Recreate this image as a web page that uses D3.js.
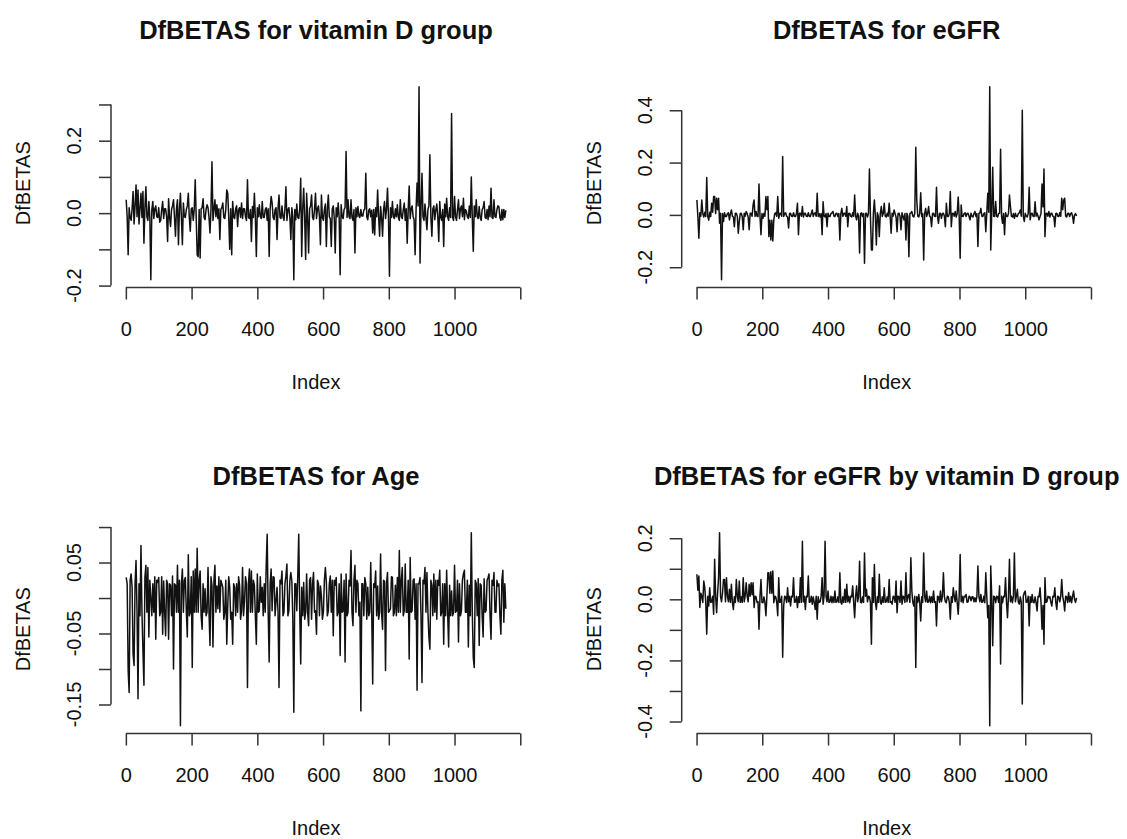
<!DOCTYPE html>
<html><head><meta charset="utf-8">
<script src="https://cdn.jsdelivr.net/npm/d3@7"></script>
<style>
body{margin:0;background:#fff}
svg{display:block}
</style>
</head><body>
<svg id="chart" width="1127" height="839"></svg>
<script>
// ---------------- DATA ----------------
const N_OBS = 1156;          // observations (Index 1..N)
const STEP = 3;              // values below are read every 3rd index
const titles = ["DfBETAS for vitamin D group","DfBETAS for eGFR","DfBETAS for Age","DfBETAS for eGFR by vitamin D group"];
const xLabel = "Index";
const yLabel = "DfBETAS";
const xTicks = [0,200,400,600,800,1000,1200];
const xTickLabels = [0,200,400,600,800,1000];

const dfbVitD = [
0.037,-0.01,-0.115,0.015,-0.012, -0.02,0.012,0.06,-0.03,0.02, 0.078,-0.01,0.064,-0.03,0.012, 0.055,-0.012,0.06,-0.083,0.015,
0.073,-0.01,-0.02,0.032,-0.012, -0.184,0.01,0.032,-0.015,0.012, 0.02,-0.01,-0.012,0.015,-0.025, -0.02,0.01,0.032,-0.015,0.012,
0.012,-0.01,-0.078,0.04,-0.012, -0.037,0.01,0.02,0.037,-0.012, -0.064,0.012,0.037,-0.087,0.01, 0.055,-0.012,-0.087,0.028,-0.01,
-0.012,0.01,0.02,0.055,-0.012, -0.05,0.012,0.015,-0.02,0.01, 0.092,-0.012,-0.115,-0.12,0.01, -0.124,0.012,0.015,0.04,-0.012,
-0.018,0.01,0.023,0.015,-0.012, -0.055,0.012,0.142,-0.02,0.01, 0.037,-0.01,0.023,-0.015,0.012, -0.073,0.01,0.015,0.028,-0.012,
-0.015,0.01,0.064,0.055,-0.012, -0.1,0.012,-0.115,0.032,-0.01, -0.015,0.012,0.02,-0.037,0.01, 0.015,-0.012,0.028,-0.015,0.012,
0.012,-0.01,-0.02,0.092,-0.012, -0.015,0.01,-0.078,0.018,-0.012, 0.055,-0.012,-0.12,0.015,-0.01, 0.023,-0.01,-0.015,0.032,-0.012,
-0.012,0.01,0.015,-0.02,0.012, -0.12,0.012,0.046,0.028,-0.012, -0.018,0.01,0.015,-0.073,0.012, 0.05,-0.012,-0.015,0.02,-0.01,
-0.02,0.012,0.073,-0.02,0.01, 0.015,-0.012,-0.073,0.015,-0.01, -0.184,0.01,-0.018,0.025,-0.012, -0.015,0.012,0.096,-0.12,0.01,
0.069,-0.012,-0.128,0.055,-0.01, -0.11,0.012,0.02,0.05,-0.012, -0.018,0.01,0.055,-0.015,0.012, 0.02,-0.01,-0.087,0.05,-0.012,
-0.02,0.01,0.025,-0.092,0.012, 0.05,-0.01,-0.015,-0.092,0.012, 0.02,-0.012,-0.11,0.015,-0.01, 0.028,-0.012,-0.17,0.023,-0.01,
-0.015,0.01,0.015,0.17,-0.012, 0.037,-0.01,-0.015,0.037,-0.012, -0.02,0.01,-0.11,0.015,-0.01, 0.018,-0.008,-0.012,0.01,-0.008,
-0.008,0.008,0.012,0.11,-0.01, -0.018,0.008,0.012,-0.01,0.008, -0.055,0.01,-0.06,0.015,-0.01, 0.064,-0.01,-0.064,0.018,-0.012,
-0.064,0.01,0.032,-0.015,0.01, 0.069,-0.01,-0.174,0.015,-0.012, 0.032,-0.01,-0.015,0.012,-0.01, 0.023,-0.012,-0.02,0.037,-0.01,
-0.015,0.01,0.028,-0.02,0.012, -0.083,0.01,0.075,-0.015,0.012, 0.02,-0.01,-0.018,-0.115,0.012, 0.083,0.02,0.349,-0.138,0.015,
0.11,-0.01,-0.02,0.025,-0.012, -0.046,0.01,0.02,0.161,-0.012, -0.064,0.012,0.02,-0.018,0.01, 0.025,-0.01,-0.078,0.032,-0.012,
-0.02,0.01,-0.092,0.025,-0.01, 0.041,-0.01,-0.02,0.015,-0.012, 0.275,-0.012,-0.02,0.046,-0.01, -0.02,0.01,0.037,-0.015,0.012,
0.02,-0.01,0.041,-0.018,0.01, 0.005,-0.01,-0.015,0.02,-0.012, 0.1,-0.012,-0.105,0.02,-0.01, 0.037,-0.01,-0.015,0.018,-0.012,
-0.02,0.01,0.015,0.032,-0.012, -0.015,0.01,-0.018,0.02,-0.01, 0.069,-0.012,-0.015,0.037,-0.01, -0.012,0.01,0.02,0.018,-0.012,
-0.02,0.01,-0.018,0.01,-0.012,
0.008];

const dfbEGFR = [
0.057,-0.006,-0.089,0.008,-0.005, 0.057,0.005,-0.008,0.01,-0.006, 0.143,-0.005,-0.02,0.01,-0.006, 0.045,0.01,0.07,0.07,0.005,
0.064,0.02,0.064,-0.032,0.006, -0.248,0.005,-0.025,0.008,-0.006, -0.006,0.005,0.008,-0.019,0.005, 0.019,-0.005,-0.008,-0.045,0.006,
0.006,-0.005,-0.07,-0.025,0.005, 0.006,-0.006,-0.057,0.006,-0.005, 0.013,0.005,-0.008,-0.057,0.006, 0.006,-0.005,0.038,0.057,-0.006,
0.013,-0.005,-0.006,0.118,-0.006, -0.076,0.005,-0.013,0.006,-0.005, 0.07,0.02,0.07,-0.083,-0.02, -0.096,-0.02,-0.1,-0.019,0.006,
0.008,-0.005,0.07,-0.013,0.005, 0.006,-0.005,0.223,-0.006,0.005, 0.008,-0.005,-0.008,-0.05,0.005, 0.006,-0.005,-0.006,0.008,-0.005,
-0.006,0.005,0.045,-0.076,0.006, 0.006,-0.005,0.032,-0.008,0.005, 0.006,-0.005,-0.006,0.008,-0.005, -0.006,0.005,0.019,-0.006,0.005,
0.008,-0.005,0.083,-0.006,0.005, -0.008,0.005,-0.076,0.05,-0.005, -0.008,0.005,-0.045,0.006,-0.005, -0.006,0.005,0.008,0.013,-0.005,
-0.006,0.005,0.006,-0.006,0.005, -0.096,0.005,0.025,-0.006,0.005, 0.006,-0.005,0.032,-0.045,0.005, 0.006,-0.005,-0.008,0.008,-0.005,
0.076,-0.005,-0.019,0.006,-0.005, -0.146,0.005,0.008,-0.006,0.005, -0.185,0.005,0.006,-0.008,0.005, 0.175,-0.005,-0.134,-0.134,0.006,
0.057,-0.005,-0.115,0.008,-0.005, -0.083,0.005,0.032,-0.006,0.005, 0.045,-0.005,-0.008,0.006,-0.005, 0.045,-0.005,-0.07,0.006,-0.005,
0.019,0.005,-0.008,-0.064,0.005, 0.006,-0.005,-0.057,0.008,-0.005, -0.019,0.005,-0.096,0.006,-0.005, -0.16,0.005,0.008,0.013,-0.005,
-0.008,0.006,0.259,0.057,-0.005, -0.008,0.005,0.085,-0.006,0.005, -0.172,0.005,0.025,-0.006,0.005, 0.032,-0.005,-0.008,-0.045,0.005,
0.006,-0.005,-0.006,0.106,-0.005, -0.032,0.005,0.006,-0.013,0.005, 0.006,-0.005,-0.045,0.045,-0.005, -0.006,0.005,0.089,-0.045,0.005,
0.006,-0.005,0.013,-0.008,0.005, 0.068,-0.005,-0.166,0.038,-0.005, -0.006,0.005,0.008,-0.006,0.005, 0.006,-0.005,-0.019,0.006,-0.005,
-0.008,0.005,0.013,-0.006,0.005, -0.121,0.005,0.008,0.025,-0.005, -0.006,0.005,0.008,-0.064,0.006, 0.083,0.01,0.49,-0.134,0.008,
0.182,-0.005,-0.006,0.051,-0.005, -0.008,0.005,0.006,0.251,-0.006, -0.032,0.005,-0.076,0.008,-0.005, -0.006,0.005,0.076,0.032,-0.005,
-0.008,0.005,-0.013,0.006,-0.005, -0.006,0.005,0.008,0.019,-0.005, 0.4,-0.005,-0.025,0.006,-0.005, -0.008,0.005,0.106,-0.019,0.005,
0.006,-0.005,-0.006,0.05,-0.005, 0.006,-0.005,-0.019,-0.006,0.005, 0.118,0.03,0.175,-0.083,0.005, 0.006,-0.005,0.013,-0.008,0.005,
0.006,-0.005,-0.006,-0.045,0.005, 0.006,-0.005,-0.006,0.008,-0.005, 0.064,0.02,0.057,0.064,-0.005, -0.008,0.005,0.006,-0.006,0.005,
0.008,-0.005,-0.032,0,0.005,
-0.004];

const dfbAge = [
0.029,0.02,-0.102,-0.133,0.025, 0.034,0.015,-0.079,-0.095,0.02, 0.053,-0.02,-0.142,0.02,-0.025, 0.074,-0.02,-0.074,-0.123,0.03,
0.046,-0.02,0.043,-0.055,0.025, 0.0,-0.025,0.02,-0.02,0.03, -0.058,0.025,0.022,0.029,-0.025, -0.02,0.03,-0.051,0.024,-0.02,
-0.053,0.025,0.02,-0.058,0.02, 0.018,-0.025,0.031,-0.1,0.02, 0.018,-0.02,0.046,-0.02,0.025, -0.18,0.02,0.041,-0.02,0.025,
0.029,-0.02,-0.055,0.061,-0.025, -0.02,0.03,-0.098,0.038,-0.02, 0.041,-0.02,0.07,-0.02,0.025, 0.038,-0.025,-0.044,0.02,-0.02,
0.013,-0.025,-0.02,0.043,-0.02, -0.067,0.03,0.017,-0.069,0.025, 0.046,-0.02,0.017,-0.015,0.03, -0.02,0.025,0.02,0.015,-0.03,
-0.02,0.025,-0.065,-0.011,0.03, 0.015,-0.03,-0.02,-0.065,0.02, 0.015,-0.025,0.02,-0.02,0.03, 0.018,-0.03,-0.018,0.043,-0.025,
-0.004,0.03,0.02,-0.126,0.02, 0.041,-0.02,0.038,-0.02,0.025, 0.018,-0.025,-0.065,0.034,-0.02, -0.018,0.03,-0.006,0.015,-0.025,
0.02,-0.02,0.046,0.09,-0.02, -0.09,0.02,0.041,-0.018,0.03, 0.029,-0.025,-0.004,0.015,-0.02, -0.126,0.025,0.02,0.038,-0.025,
-0.02,0.02,0.031,0.048,-0.025, -0.018,0.025,0.036,0.024,-0.03, -0.161,0.02,0.02,-0.018,0.03, 0.09,-0.02,-0.093,0.015,-0.025,
0.022,-0.03,-0.02,0.034,-0.02, -0.039,0.025,0.029,-0.03,0.02, 0.036,-0.02,-0.018,-0.051,0.025, 0.02,-0.025,0.017,0.003,-0.03,
-0.02,0.025,0.043,0.022,-0.025, -0.018,0.02,0.031,-0.02,0.025, -0.053,0.025,0.018,0.029,-0.025, -0.02,0.02,-0.081,0.034,-0.02,
-0.018,0.025,-0.09,0.034,-0.025, -0.02,0.025,0.017,0.067,-0.02, -0.039,0.025,0.046,-0.02,0.025, 0.02,-0.025,-0.006,-0.159,0.02,
0.02,-0.025,0.029,0.02,-0.03, 0.015,-0.025,-0.02,0.05,-0.02, -0.121,0.02,0.015,0.038,-0.025, 0.017,-0.03,-0.02,0.062,-0.02,
-0.044,0.025,0.024,-0.102,0.02, 0.036,-0.02,-0.018,-0.015,0.03, 0.029,-0.025,-0.02,0.018,-0.025, 0.029,-0.02,0.067,-0.02,0.025,
0.043,-0.025,-0.018,0.048,-0.02, -0.02,0.025,-0.086,0.057,-0.02, -0.018,0.025,0.027,-0.03,0.02, -0.13,0.02,0.02,0.029,-0.025,
-0.119,0.025,0.02,0.043,-0.02, 0.036,-0.02,-0.055,-0.072,0.025, 0.018,-0.025,0.034,-0.02,0.025, -0.03,0.025,0.018,0.039,-0.025,
-0.02,0.02,-0.065,0.02,-0.025, 0.039,-0.02,-0.069,0.018,-0.025, 0.01,-0.025,-0.02,0.046,-0.02, -0.018,0.025,-0.062,0.02,-0.025,
-0.018,0.025,0.034,0.039,-0.02, -0.02,0.025,-0.069,0.018,-0.025, 0.092,-0.02,-0.084,-0.098,0.025, 0.02,-0.025,0.027,-0.067,0.02,
0.018,-0.025,-0.055,0.027,-0.02, -0.018,0.025,0.029,0.034,-0.025, -0.058,0.025,0.018,0.036,-0.02, -0.02,0.025,0.017,0.02,-0.025,
-0.051,0.025,0.039,-0.034,0.02,
-0.015];

const dfbInter = [
0.082,0.03,0.076,-0.027,0.02, 0.01,-0.01,0.06,0.038,-0.01, -0.114,0.01,-0.022,0.038,-0.01, -0.008,0.01,-0.049,0.131,0.01,
-0.044,0.02,0.071,0.218,0.01, -0.008,0.02,0.065,0.065,-0.008, 0.071,0.01,-0.008,0.033,-0.01, 0.049,-0.01,-0.033,0.008,-0.01,
0.065,0.01,-0.008,0.06,-0.01, 0.008,-0.01,0.071,-0.008,0.012, 0.054,0.01,-0.008,0.049,0.01, 0.054,0.015,0.054,-0.027,0.01,
0.008,-0.01,-0.008,-0.098,0.01, 0.065,-0.01,-0.011,0.008,-0.01, -0.054,0.01,0.087,0.087,0.02, 0.09,0.02,0.093,-0.011,0.01,
0.008,-0.01,-0.054,0.071,-0.01, -0.008,0.01,-0.19,-0.022,0.01, 0.008,-0.01,0.038,-0.008,0.01, -0.022,0.01,0.008,0.071,-0.01,
-0.008,0.01,-0.027,0.008,-0.01, 0.071,-0.01,0.19,-0.008,0.01, -0.033,0.01,0.008,0.076,-0.01, -0.008,0.01,-0.016,0.008,-0.01,
-0.033,0.01,-0.065,0.008,-0.01, -0.008,0.01,0.071,-0.016,0.01, 0.19,0.01,-0.008,0.027,-0.01, -0.008,0.01,-0.011,0.008,-0.01,
0.027,-0.01,-0.008,0.008,-0.01, 0.087,-0.01,-0.016,0.008,-0.01, 0.033,-0.01,0.049,-0.008,0.01, -0.011,0.01,0.008,0.044,-0.01,
-0.06,0.01,0.044,-0.008,0.01, 0.125,-0.01,-0.011,0.008,-0.01, 0.152,0.01,0.033,-0.008,0.01, 0.008,-0.01,-0.147,0.071,-0.01,
0.114,-0.01,-0.033,0.008,-0.01, 0.082,-0.01,-0.016,0.008,-0.01, 0.038,-0.01,-0.008,0.008,-0.01, 0.065,-0.01,-0.008,-0.016,0.01,
0.008,-0.01,0.06,-0.044,0.01, 0.008,-0.01,0.06,-0.016,0.01, 0.008,-0.01,0.087,-0.008,0.01, 0.016,-0.01,0.136,0.027,-0.01,
-0.022,0.01,-0.223,0.008,-0.01, 0.016,-0.01,-0.071,0.008,-0.01, 0.152,0.01,-0.008,0.027,-0.01, -0.008,0.01,-0.011,0.008,-0.01,
0.027,-0.01,-0.008,-0.087,0.01, 0.008,-0.01,0.027,-0.008,0.01, 0.087,0.01,-0.008,-0.011,0.01, 0.008,-0.01,-0.065,0.008,-0.01,
0.038,0.01,-0.008,0.027,-0.01, -0.049,0.01,0.147,-0.008,0.01, -0.011,0.01,0.008,0.016,-0.01, -0.008,0.01,0.008,-0.005,0.008,
0.008,-0.008,0.005,-0.008,0.01, 0.109,0.01,-0.008,0.016,-0.01, -0.008,0.01,-0.011,0.087,0.01, -0.06,-0.02,-0.414,0.109,0.01,
-0.152,0.01,0.008,-0.011,0.01, 0.008,-0.01,0.044,-0.212,0.01, -0.011,0.01,0.008,0.071,-0.01, -0.06,0.01,0.131,-0.008,0.01,
-0.011,0.01,0.152,-0.008,0.01, 0.033,-0.01,-0.016,0.008,-0.01, -0.343,0.01,0.022,0.027,-0.01, -0.008,0.01,-0.087,0.008,-0.01,
0.016,-0.01,-0.011,0.008,-0.01, -0.038,0.01,0.008,0.038,-0.01, -0.098,-0.02,-0.147,0.071,-0.01, -0.008,0.01,0.005,0.008,-0.01,
-0.022,0.01,0.008,0.038,-0.01, -0.033,0.01,0.008,-0.008,0.01, 0.065,0.01,-0.008,-0.038,0.01, 0.008,-0.01,0.022,-0.008,0.01,
-0.011,0.01,0.027,0,-0.01,
0.005];

const yTicksVitD  = [-0.2,-0.1,0,0.1,0.2,0.3];
const yLabelsVitD = [-0.2,0,0.2];
const yTicksEGFR  = [-0.2,0,0.2,0.4];
const yLabelsEGFR = [-0.2,0,0.2,0.4];
const yTicksAge   = [-0.15,-0.1,-0.05,0,0.05,0.1];
const yLabelsAge  = [-0.15,-0.05,0.05];
const yTicksInter = [-0.4,-0.3,-0.2,-0.1,0,0.1,0.2];
const yLabelsInter= [-0.4,-0.2,0,0.2];

// ---------------- LAYOUT ----------------
const FONT = '"Liberation Sans", Arial, Helvetica, sans-serif';
const PLOT_W = 410, PLOT_H = 208.5;
const COL_LEFT = [111, 681.7];
const ROW_BOTTOM = [287.5, 733.5];
const AXIS_COL = "#333";

const panels = [
  {title:titles[0], values:dfbVitD,  yTicks:yTicksVitD,  yLabels:yLabelsVitD,  dec:1, col:0, row:0},
  {title:titles[1], values:dfbEGFR,  yTicks:yTicksEGFR,  yLabels:yLabelsEGFR,  dec:1, col:1, row:0},
  {title:titles[2], values:dfbAge,   yTicks:yTicksAge,   yLabels:yLabelsAge,   dec:2, col:0, row:1},
  {title:titles[3], values:dfbInter, yTicks:yTicksInter, yLabels:yLabelsInter, dec:1, col:1, row:1}
];

const svg = d3.select("#chart");
svg.append("rect").attr("width",1127).attr("height",839).attr("fill","#fff");

panels.forEach(p => {
  const left = COL_LEFT[p.col], bottom = ROW_BOTTOM[p.row];
  const top = bottom - PLOT_H, cx = left + PLOT_W / 2;
  const nPad = 0.04 * (N_OBS - 1);
  const x = d3.scaleLinear().domain([1 - nPad, N_OBS + nPad]).range([left, left + PLOT_W]);
  const [mn, mx] = d3.extent(p.values);
  const pad = 0.04 * (mx - mn);
  const y = d3.scaleLinear().domain([mn - pad, mx + pad]).range([bottom, top]);

  const g = svg.append("g");

  // series line (R type = "l")
  g.append("path")
    .datum(p.values)
    .attr("d", d3.line().x((d, i) => x(1 + i * STEP)).y(d => y(d)))
    .attr("fill", "none")
    .attr("stroke", "#111")
    .attr("stroke-width", 1.5)
    .attr("stroke-linejoin", "round");

  // x axis
  const xa = g.append("g")
    .attr("transform", `translate(0,${bottom})`)
    .call(d3.axisBottom(x).tickValues(xTicks).tickSize(12).tickSizeOuter(0).tickPadding(22)
      .tickFormat(d => xTickLabels.includes(d) ? String(d) : ""))
    .attr("font-size", 20).attr("font-family", FONT);
  xa.select(".domain").remove();
  xa.append("line").attr("x1", x(xTicks[0])).attr("x2", x(xTicks[xTicks.length - 1]))
    .attr("stroke", AXIS_COL).attr("stroke-width", 1.5);
  xa.selectAll(".tick line").attr("stroke", AXIS_COL).attr("stroke-width", 1.5);
  xa.selectAll(".tick text").attr("fill", "#111");

  // y axis
  const ya = g.append("g")
    .attr("transform", `translate(${left},0)`)
    .call(d3.axisLeft(y).tickValues(p.yTicks).tickSize(12).tickSizeOuter(0).tickFormat(""));
  ya.select(".domain").remove();
  ya.append("line").attr("y1", y(d3.min(p.yTicks))).attr("y2", y(d3.max(p.yTicks)))
    .attr("stroke", AXIS_COL).attr("stroke-width", 1.5);
  ya.selectAll(".tick line").attr("stroke", AXIS_COL).attr("stroke-width", 1.5);

  g.selectAll("text.ylab").data(p.yLabels).join("text")
    .attr("class", "ylab")
    .attr("transform", d => `translate(${left - 30},${y(d)}) rotate(-90)`)
    .attr("text-anchor", "middle")
    .attr("font-family", FONT).attr("font-size", 20).attr("fill", "#111")
    .text(d => d.toFixed(p.dec));

  // titles and axis labels
  g.append("text").attr("x", cx).attr("y", top - 40.5)
    .attr("text-anchor", "middle").attr("font-family", FONT).attr("font-weight", "bold")
    .attr("font-size", 25.5).attr("fill", "#111").text(p.title);
  g.append("text").attr("x", cx).attr("y", bottom + 101)
    .attr("text-anchor", "middle").attr("font-family", FONT)
    .attr("font-size", 20).attr("fill", "#111").text(xLabel);
  g.append("text")
    .attr("transform", `translate(${left - 81},${(top + bottom) / 2}) rotate(-90)`)
    .attr("text-anchor", "middle").attr("font-family", FONT)
    .attr("font-size", 20).attr("fill", "#111").text(yLabel);
});
</script>
</body></html>
